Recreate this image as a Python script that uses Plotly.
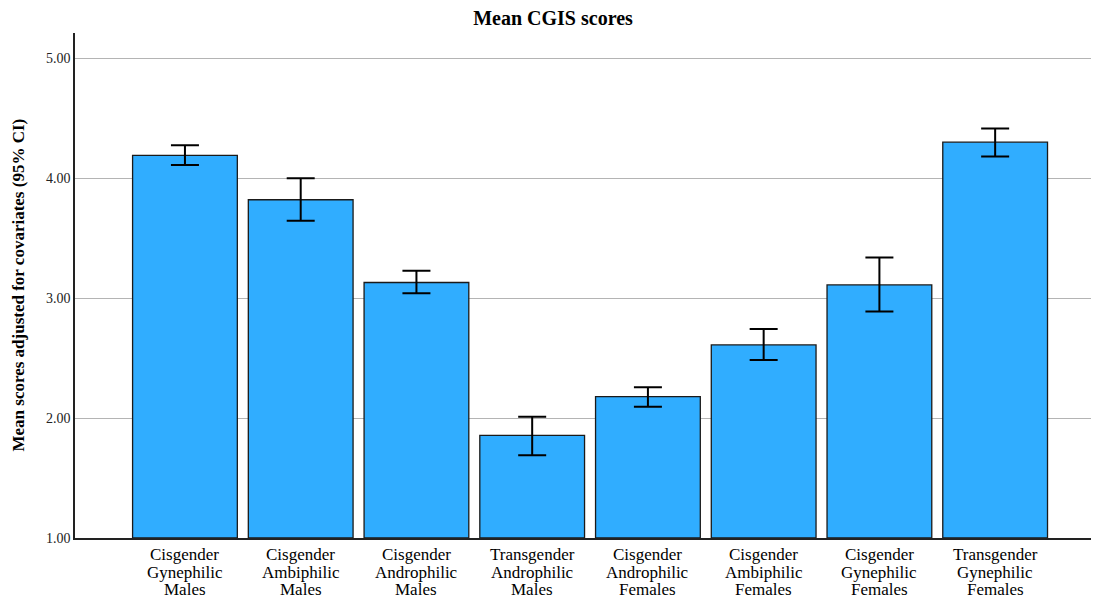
import plotly.graph_objects as go

line1 = ["Cisgender", "Cisgender", "Cisgender", "Transgender",
         "Cisgender", "Cisgender", "Cisgender", "Transgender"]
line2 = ["Gynephilic", "Ambiphilic", "Androphilic", "Androphilic",
         "Androphilic", "Ambiphilic", "Gynephilic", "Gynephilic"]
line3 = ["Males", "Males", "Males", "Males",
         "Females", "Females", "Females", "Females"]
means = [4.19, 3.82, 3.13, 1.855, 2.178, 2.61, 3.11, 4.30]
ci_upper = [4.275, 4.00, 3.228, 2.01, 2.256, 2.742, 3.339, 4.414]
ci_lower = [4.11, 3.644, 3.04, 1.69, 2.094, 2.483, 2.889, 4.181]
y_ticks = [1, 2, 3, 4, 5]
y_ticktext = ["1.00", "2.00", "3.00", "4.00", "5.00"]

err_plus = [u - m for u, m in zip(ci_upper, means)]
err_minus = [m - l for m, l in zip(means, ci_lower)]
xs = list(range(len(means)))

serif = "Liberation Serif, Times New Roman, serif"

# page body has an 8px default margin; compensate so the figure fills 1099x598
W, H = 1091, 590
ML, MR, MT, MB = 67, 2, 25, 60

fig = go.Figure()
fig.add_trace(go.Bar(
    x=xs,
    y=[m - 1 for m in means],
    base=1,
    marker=dict(color="#30ADFF", line=dict(color="#1a1a1a", width=1.3)),
    error_y=dict(type="data", symmetric=False, array=err_plus, arrayminus=err_minus,
                 color="black", thickness=2, width=14),
    width=0.905,
    hoverinfo="skip",
))

annotations = []
for i in xs:
    for txt, shift in ((line1[i], -16), (line2[i], -34), (line3[i], -51)):
        annotations.append(dict(
            x=i, xref="x", y=0, yref="paper", yanchor="middle", xanchor="center",
            yshift=shift, text=txt, showarrow=False, borderpad=0,
            font=dict(family=serif, size=17, color="black"),
        ))
annotations.append(dict(
    x=0, xref="paper", y=0.5, yref="paper", xanchor="center", yanchor="middle",
    xshift=-(ML - 10), text="<b>Mean scores adjusted for covariates (95% CI)</b>",
    textangle=-90, showarrow=False,
    font=dict(family=serif, size=17, color="black"),
))

fig.update_layout(
    width=W, height=H,
    paper_bgcolor="white", plot_bgcolor="white",
    margin=dict(l=ML, r=MR, t=MT, b=MB, autoexpand=False),
    title=dict(text="<b>Mean CGIS scores</b>", x=545 / W, xref="container", xanchor="center",
               y=1 - 10 / H, yanchor="middle",
               font=dict(family=serif, size=20, color="black")),
    showlegend=False,
    font=dict(family=serif, color="black"),
    annotations=annotations,
)
fig.update_xaxes(
    range=[-0.95, 7.88],
    showticklabels=False,
    showgrid=False, showline=True, linecolor="#222", linewidth=1.5,
    ticks="", zeroline=False,
)
fig.update_yaxes(
    range=[1.0, 5.21],
    tickmode="array", tickvals=y_ticks, ticktext=y_ticktext,
    tickfont=dict(family=serif, size=14, color="#222"),
    showgrid=True, gridcolor="#b4b4b4", gridwidth=1.2,
    showline=True, linecolor="#222", linewidth=1.5,
    ticks="", zeroline=False, automargin=False,
)

fig.write_html("out.html")
